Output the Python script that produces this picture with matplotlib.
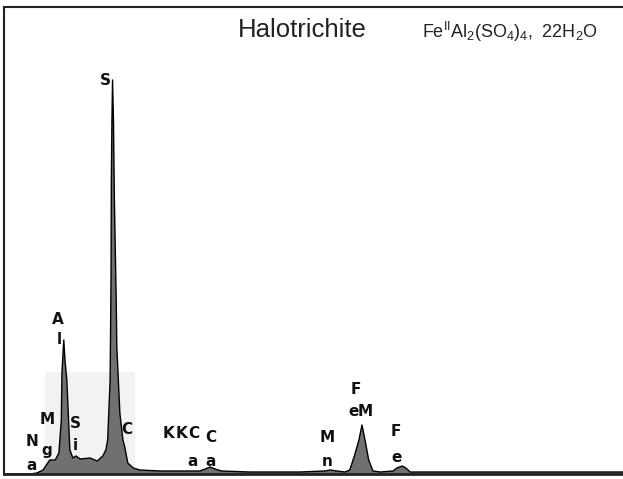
import matplotlib
matplotlib.use("Agg")
import matplotlib.pyplot as plt
from matplotlib.patches import Rectangle

# ---- data ----
energy_keV = [0.53, 0.96, 1.07, 1.17, 1.28, 1.37, 1.43, 1.47, 1.48, 1.51, 1.53, 1.56,
              1.61, 1.66, 1.71, 1.78, 1.94, 2.06, 2.15, 2.20, 2.23, 2.27, 2.285, 2.29,
              2.30, 2.31, 2.325, 2.34, 2.37, 2.38, 2.43, 2.48, 2.51, 2.56, 2.65, 2.76,
              3.09, 3.42, 3.74, 3.83, 3.91, 3.99, 4.10, 4.56, 5.06, 5.38, 5.79, 5.88,
              5.99, 6.12, 6.20, 6.28, 6.35, 6.40, 6.45, 6.51, 6.58, 6.70, 6.91, 6.97,
              7.06, 7.12, 7.19, 7.35, 10.68]
counts = [0, 0, 10, 40, 140, 140, 210, 540, 1010, 1340, 1140, 940,
          240, 160, 180, 150, 160, 130, 180, 240, 340, 940, 1940, 2940,
          3540, 3940, 3540, 2740, 1740, 1270, 610, 340, 270, 110, 60, 40,
          30, 30, 30, 50, 70, 50, 30, 20, 20, 20, 30, 40,
          30, 20, 40, 190, 340, 490, 340, 140, 30, 20, 30, 60,
          80, 60, 20, 20, 20]

# element labels: (character, energy, count)
label_chars = ["N", "a", "M", "g", "A", "l", "S", "i", "S", "C",
               "K", "K", "C", "a", "C", "a", "M", "n", "F", "e", "M", "F", "e"]
label_energy = [0.99, 0.99, 1.236, 1.236, 1.416, 1.43, 1.695, 1.695, 2.20, 2.55,
                3.22, 3.44, 3.65, 3.62, 3.92, 3.92, 5.83, 5.83, 6.30, 6.26, 6.45, 6.96, 6.97]
label_count = [320, 80, 540, 240, 1540, 1340, 510, 280, 3940, 440,
               400, 400, 400, 130, 360, 120, 360, 130, 840, 620, 630, 430, 170]

title = "Halotrichite"
formula = r"$\mathrm{Fe^{II}Al_2(SO_4)_4,\ 22H_2O}$"

plt.rcParams['mathtext.fontset'] = 'custom'
plt.rcParams['mathtext.rm'] = 'Liberation Sans'

W, H = 623, 479
DPI = 100
fig = plt.figure(figsize=(W / DPI, H / DPI), dpi=DPI)
ax = fig.add_axes([4 / W, (H - 474) / H, 1 - 4 / W, (474 - 7) / H])
ax.set_xlim(0.53, 10.68)
ax.set_ylim(0, 4670)

# faint scanned grey patch
ax.add_patch(Rectangle((1.20, 0), 1.48, 1020, facecolor="#f2f2f2", edgecolor="none", zorder=0))

ax.fill_between(energy_keV, counts, 0, facecolor="#707070", edgecolor="none", zorder=1)
ax.plot(energy_keV, counts, color="black", lw=1.0, zorder=2)

for ch, e, c in zip(label_chars, label_energy, label_count):
    ax.text(e, c, ch, ha="center", va="center", fontsize=11, fontweight="bold",
            family="DejaVu Sans", color="#111111", zorder=3)

ax.spines["right"].set_visible(False)
for s in ["top", "left", "bottom"]:
    ax.spines[s].set_color("#222222")
ax.spines["top"].set_linewidth(1.5)
ax.spines["left"].set_linewidth(1.5)
ax.spines["bottom"].set_linewidth(2.0)
ax.set_xticks([])
ax.set_yticks([])

fig.text(302 / W, 1 - 30 / H, title, ha="center", va="center", fontsize=18.5,
         family="Liberation Sans", color="#222222")
fig.text(510 / W, 1 - 32 / H, formula, ha="center", va="center", fontsize=13,
         color="#222222")

fig.savefig("out.png", dpi=DPI)
